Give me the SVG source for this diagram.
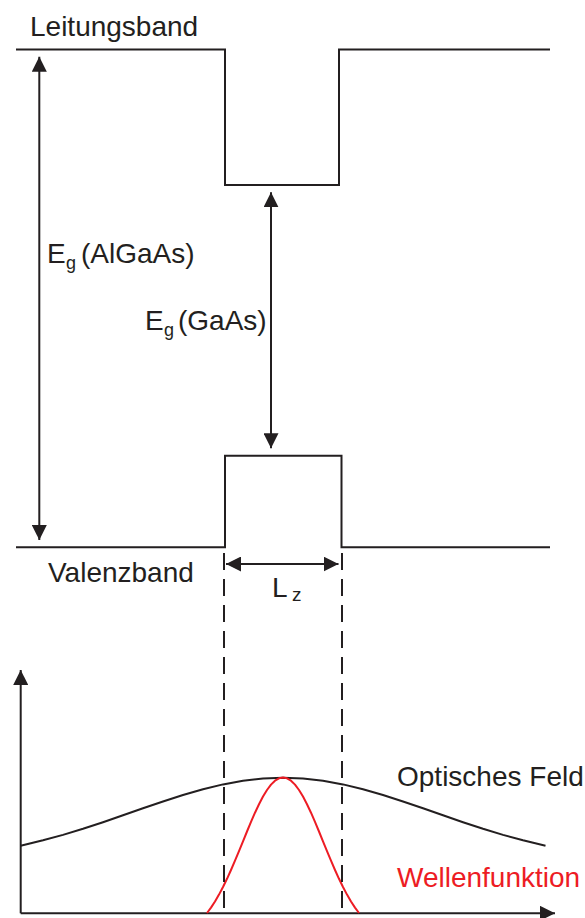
<svg xmlns="http://www.w3.org/2000/svg" width="585" height="918" viewBox="0 0 585 918">
<style>
.ln{fill:none;stroke:#231f20;stroke-width:2}
.dash{fill:none;stroke:#231f20;stroke-width:2;stroke-dasharray:17 9}
.t{font-family:"Liberation Sans",Arial,sans-serif;font-size:28px;fill:#231f20}
.sub{font-size:18px}
.red{fill:#ed1c24}
</style>
<defs>
<marker id="ah" markerUnits="userSpaceOnUse" markerWidth="15" markerHeight="15" refX="15" refY="7.5" orient="auto-start-reverse">
<path d="M0,0 L15,7.5 L0,15 Z" fill="#231f20"/>
</marker>
</defs>
<rect width="585" height="918" fill="#fff"/>
<g id="conduction-band">
<path class="ln" d="M16,49.5 H225 V185 H339 V49.5 H550"/>
<text class="t" x="30" y="36">Leitungsband</text>
</g>
<g id="valence-band">
<path class="ln" d="M16,547.3 H225 V455.7 H341.5 V547.3 H550"/>
<text class="t" x="48" y="582">Valenzband</text>
</g>
<g id="label-eg-algaas">
<text class="t" x="47" y="263">E<tspan class="sub" x="66" y="269">g</tspan><tspan x="81" y="263">(AlGaAs)</tspan></text>
</g>
<g id="label-eg-gaas">
<text class="t" x="145" y="330">E<tspan class="sub" x="164" y="336">g</tspan><tspan x="178" y="330">(GaAs)</tspan></text>
</g>
<g id="label-lz">
<text class="t" x="272" y="597">L<tspan style="font-size:19px" x="292" y="601">z</tspan></text>
</g>
<g id="axes">
<line class="ln" x1="20.7" y1="913.3" x2="20.7" y2="670" marker-end="url(#ah)"/>
<line class="ln" x1="20.7" y1="913.3" x2="555" y2="913.3" marker-end="url(#ah)"/>
</g>
<g id="optical-field">
<polyline class="ln" stroke-linejoin="round" points="20.7,845.7 43,840.3 63,834.9 83,828.8 103,822.2 123,815.3 143,808.3 163,801.5 183,795 203,789.2 223,784.4 243,780.8 263,778.5 283,777.7 303,778.5 323,780.8 343,784.4 363,789.2 383,795 403,801.5 423,808.3 443,815.3 463,822.2 483,828.8 503,834.9 523,840.3 545.5,845.7"/>
<text class="t" x="397" y="786">Optisches Feld</text>
</g>
<g id="wavefunction">
<polyline fill="none" stroke="#ed1c24" stroke-width="2" stroke-linejoin="round" points="207,913 211,907.6 215,901.5 219,894.6 223,887 227,878.8 231,870 235,860.7 239,851.1 243,841.3 247,831.5 251,821.9 255,812.7 259,804.2 263,796.5 267,790 271,784.6 275,780.7 279,778.3 283,777.5 287,778.3 291,780.7 295,784.6 299,790 303,796.5 307,804.2 311,812.7 315,821.9 319,831.5 323,841.3 327,851.1 331,860.7 335,870 339,878.8 343,887 347,894.6 351,901.5 355,907.6 359,913"/>
<text class="t red" x="397" y="887">Wellenfunktion</text>
</g>
<g id="connectors">
<line class="ln" x1="39.3" y1="540" x2="39.3" y2="56.7" marker-start="url(#ah)" marker-end="url(#ah)"/>
<line class="ln" x1="271" y1="448.3" x2="271" y2="192.3" marker-start="url(#ah)" marker-end="url(#ah)"/>
<line class="ln" x1="226" y1="564" x2="338.5" y2="564" marker-start="url(#ah)" marker-end="url(#ah)"/>
<line class="dash" x1="224" y1="553" x2="224" y2="908"/>
<line class="dash" x1="342" y1="553" x2="342" y2="908"/>
</g>
</svg>
